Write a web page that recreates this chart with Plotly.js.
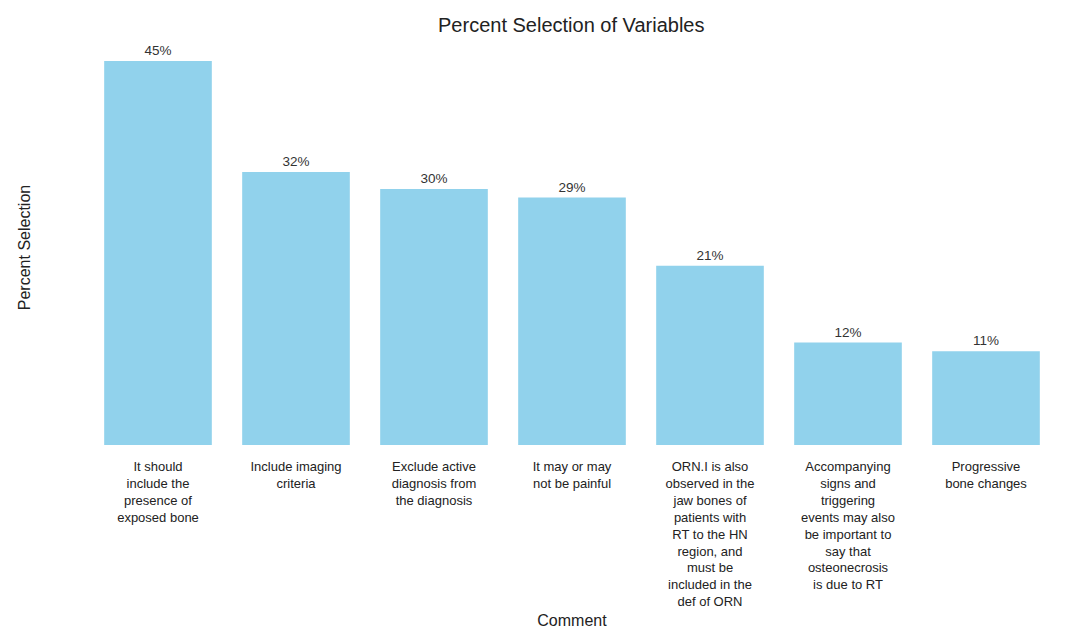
<!DOCTYPE html>
<html>
<head>
<meta charset="utf-8">
<script src="https://cdn.plot.ly/plotly-3.0.1.min.js"></script>
<style>html,body{margin:0;padding:0;background:#fff;}#chart{width:1084px;height:632px;}</style>
</head>
<body>
<div id="chart"></div>
<script>
const categories = [
  "It should<br>include the<br>presence of<br>exposed bone",
  "Include imaging<br>criteria",
  "Exclude active<br>diagnosis from<br>the diagnosis",
  "It may or may<br>not be painful",
  "ORN.I is also<br>observed in the<br>jaw bones of<br>patients with<br>RT to the HN<br>region, and<br>must be<br>included in the<br>def of ORN",
  "Accompanying<br>signs and<br>triggering<br>events may also<br>be important to<br>say that<br>osteonecrosis<br>is due to RT",
  "Progressive<br>bone changes"
];
const percents = [45, 32, 30, 29, 21, 12, 11];
const barLabels = percents.map(v => v + "%");

const font = "Liberation Sans, Arial, Helvetica, sans-serif";

Plotly.newPlot("chart", [{
  type: "bar",
  x: categories,
  y: percents,
  text: barLabels,
  textposition: "outside",
  cliponaxis: false,
  textfont: {family: font, size: 13.5, color: "#333"},
  marker: {color: "rgb(145,210,236)", line: {width: 0}},
  hoverinfo: "none"
}], {
  width: 1084, height: 632,
  paper_bgcolor: "#fff", plot_bgcolor: "#fff",
  margin: {l: 89, r: 29, t: 50, b: 187},
  bargap: 0.22,
  showlegend: false,
  title: {text: "Percent Selection of Variables", x: 0.527, xanchor: "center", y: 0.96, yanchor: "middle",
          font: {family: font, size: 20, color: "#222"}},
  xaxis: {
    type: "category",
    range: [-0.5, 6.5],
    showgrid: false, zeroline: false, showline: false,
    ticks: "", ticklabelstandoff: 12,
    tickfont: {family: font, size: 13, color: "#222"},
    tickangle: 0,
    automargin: false,
    title: {text: "Comment", font: {family: font, size: 16, color: "#222"}, standoff: 6}
  },
  yaxis: {
    range: [0, 46.3],
    showgrid: false, zeroline: false, showline: false,
    showticklabels: false, ticks: "",
    automargin: false,
    title: {text: "Percent Selection", font: {family: font, size: 16, color: "#222"}, standoff: 53}
  }
}, {staticPlot: true});
</script>
</body>
</html>
